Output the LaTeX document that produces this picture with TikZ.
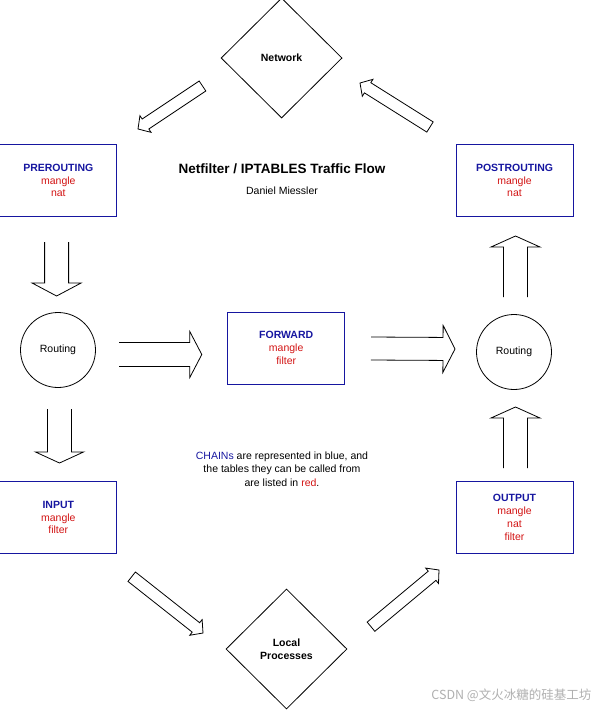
\documentclass[tikz,border=0pt]{standalone}
\usepackage{fontspec}
\setmainfont{Liberation Sans}
\newfontfamily\cjk{Noto Sans CJK SC}
\usetikzlibrary{shapes.geometric,calc}
\definecolor{cblue}{RGB}{22,22,160}
\definecolor{cred}{RGB}{210,20,20}
\definecolor{wmgrey}{RGB}{175,175,175}
\newcommand\blockarrow[6]{%
  \coordinate (#1hb) at ($(#2)!#5!(#1)$);
  \draw[arrowline] ($(#1)!#3!90:(#2)$) -- ($(#1hb)!#3!90:(#2)$) -- ($(#1hb)!#4!90:(#2)$) -- (#2)
     -- ($(#1hb)!#4!-90:(#2)$) -- ($(#1hb)!#3!-90:(#2)$) -- ($(#1)!#3!-90:(#2)$) #6;
}
\begin{document}
\begin{tikzpicture}[x=1pt,y=-1pt,
  txt/.style={font=\fontsize{10.5}{12.8}\selectfont, inner sep=0pt, align=center},
  chainbox/.style={txt, draw=cblue, line width=0.9pt, minimum width=117pt, minimum height=72pt},
  place/.style={txt, draw=black, line width=0.8pt, shape=diamond, aspect=1, minimum width=121pt, minimum height=120pt},
  router/.style={txt, draw=black, line width=0.8pt, circle, minimum size=75pt},
  arrowline/.style={draw=black, line width=0.8pt, fill=white, line join=miter}
]
\useasboundingbox (0,0) rectangle (605,710);

% places
\node[place] (net) at (281.6,58) {\bfseries Network};
\node[place] (local) at (286.5,649) {\bfseries Local\\\bfseries Processes};

% chains
\node[chainbox] (pre) at (58.3,180.5) {\textcolor{cblue}{\bfseries PREROUTING}\\\textcolor{cred}{mangle}\\\textcolor{cred}{nat}};
\node[chainbox] (post) at (514.5,180.5) {\textcolor{cblue}{\bfseries POSTROUTING}\\\textcolor{cred}{mangle}\\\textcolor{cred}{nat}};
\node[chainbox] (fwd) at (286.2,348) {\textcolor{cblue}{\bfseries FORWARD}\\\textcolor{cred}{mangle}\\\textcolor{cred}{filter}};
\node[chainbox] (in) at (58.3,517.5) {\textcolor{cblue}{\bfseries INPUT}\\\textcolor{cred}{mangle}\\\textcolor{cred}{filter}};
\node[chainbox] (out) at (514.5,517.5) {\textcolor{cblue}{\bfseries OUTPUT}\\\textcolor{cred}{mangle}\\\textcolor{cred}{nat}\\\textcolor{cred}{filter}};

% routing
\node[router] (rl) at (58,350) {Routing};
\node[router] (rr) at (514,352) {Routing};

% texts
\node[inner sep=0pt, font=\fontsize{13.5}{16}\selectfont\bfseries] (title) at (282,169) {Netfilter / IPTABLES Traffic Flow};
\node[txt] (author) at (282,191) {Daniel Miessler};
\node[txt, font=\fontsize{10.5}{13.5}\selectfont] (legend) at (282,469) {\textcolor{cblue}{CHAINs} are represented in blue, and\\the tables they can be called from\\are listed in \textcolor{cred}{red}.};
\node[inner sep=0pt, anchor=east, text=wmgrey, font=\cjk\fontsize{12.5}{14}\selectfont] (wm) at (591.5,695) {CSDN @文火冰糖的硅基工坊};

% arrow end points
\coordinate (a1t) at (202.5,86);  \coordinate (a1h) at (138,129);
\coordinate (a2t) at (430,127);   \coordinate (a2h) at (360,83);
\coordinate (a3t) at (56.6,242);  \coordinate (a3h) at (56.6,296);
\coordinate (a4t) at (119,354.5); \coordinate (a4h) at (201.8,354.5);
\coordinate (a5t) at (371,348.5); \coordinate (a5h) at (455,349);
\coordinate (a6t) at (515.5,297); \coordinate (a6h) at (515.5,236);
\coordinate (a7t) at (59.5,409);  \coordinate (a7h) at (59.5,463);
\coordinate (a8t) at (515.5,468); \coordinate (a8h) at (515.5,407);
\coordinate (a9t) at (131.7,576.7); \coordinate (a9h) at (203,633);
\coordinate (a10t) at (371,626.7); \coordinate (a10h) at (439,570);

\blockarrow{a1t}{a1h}{6pt}{10pt}{9pt}{-- cycle}
\blockarrow{a2t}{a2h}{6pt}{10pt}{9pt}{-- cycle}
\blockarrow{a3t}{a3h}{12pt}{24.5pt}{13pt}{}
\blockarrow{a4t}{a4h}{12pt}{23pt}{12pt}{}
\blockarrow{a5t}{a5h}{11.5pt}{23.5pt}{12pt}{}
\blockarrow{a6t}{a6h}{12pt}{24.5pt}{11pt}{}
\blockarrow{a7t}{a7h}{12pt}{24pt}{11pt}{}
\blockarrow{a8t}{a8h}{12pt}{24.5pt}{11pt}{}
\blockarrow{a9t}{a9h}{6pt}{10pt}{9pt}{-- cycle}
\blockarrow{a10t}{a10h}{6pt}{10pt}{9pt}{-- cycle}
\end{tikzpicture}
\end{document}
